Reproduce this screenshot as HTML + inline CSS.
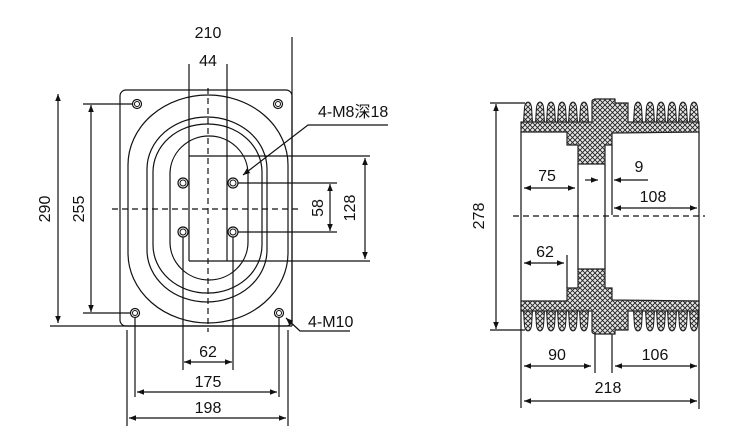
<!DOCTYPE html>
<html><head><meta charset="utf-8"><style>
html,body{margin:0;padding:0;background:#fff;}
svg{display:block;}
text{font-family:"Liberation Sans Narrow","Liberation Sans","Noto Sans CJK SC",sans-serif;font-size:16px;fill:#111;}
</style></head><body>
<svg width="752" height="438" viewBox="0 0 752 438" xmlns="http://www.w3.org/2000/svg">
<defs>
<pattern id="h" width="5" height="5" patternUnits="userSpaceOnUse">
<rect width="5" height="5" fill="#e8e8e8"/>
<path d="M0,0L5,5M5,0L0,5" stroke="#222" stroke-width="0.9"/>
</pattern>
<marker id="a" viewBox="0 0 10 10" refX="10" refY="5" markerWidth="9" markerHeight="7" orient="auto-start-reverse" markerUnits="userSpaceOnUse">
<path d="M0,1L10,5L0,9z" fill="#111"/>
</marker>
<g id="fin"><path d="M-4.5,0 L-3.5,-15 Q-2.5,-20 0,-20 Q2.5,-20 3.5,-15 L4.5,0z" fill="url(#h)" stroke="#222" stroke-width="1"/></g>
<g id="half">
<use href="#fin" x="528" y="122"/><use href="#fin" x="540" y="122"/><use href="#fin" x="551" y="122"/><use href="#fin" x="562" y="122"/><use href="#fin" x="573" y="122"/><use href="#fin" x="584" y="122"/>
<use href="#fin" x="638" y="122"/><use href="#fin" x="650" y="122"/><use href="#fin" x="661" y="122"/><use href="#fin" x="672" y="122"/><use href="#fin" x="683" y="122"/><use href="#fin" x="694" y="122"/>
<path d="M521,122 L592,122 L592,101 Q593,99 596,99 L615,99 L615,103 L628,103 L628,122 L699,122 L699,132 L612,133 L612,145 L605,145 L605,164 L578,164 L578,145 L567,145 L567,132 L521,132z" fill="url(#h)" stroke="#222" stroke-width="1.2"/>
</g>
</defs>
<g stroke="#111" stroke-width="1.2" fill="none">
<rect x="120" y="90" width="172" height="236" rx="6"/>
<rect x="128" y="95" width="160" height="228" rx="80" ry="70"/>
<rect x="147" y="117" width="120" height="185" rx="60" ry="52"/>
<rect x="153" y="124" width="109" height="169" rx="54" ry="48"/>
<rect x="170" y="136" width="78" height="144" rx="39" ry="38"/>
<path d="M208,88V332M112,209H298" stroke-dasharray="6,4"/>
<path d="M189,64V261M227,64V261M189,156H370M189,261H370"/>
<path d="M292,37V326"/>
<path d="M127,330V426M288,330V426M135,313V397M279,313V397M183,232V370M233,232V370"/>
<path d="M50,326H292M83,104H132M83,313H132M233,183H337M233,232H337"/>
<g fill="#fff">
<circle cx="137" cy="104" r="4.5"/><circle cx="278" cy="104" r="4.5"/><circle cx="135" cy="313" r="4.5"/><circle cx="279" cy="313" r="4.5"/>
<circle cx="183" cy="183" r="5"/><circle cx="233" cy="183" r="5"/><circle cx="183" cy="232" r="5"/><circle cx="233" cy="232" r="5"/>
</g>
<g stroke-width="1"><circle cx="137" cy="104" r="2.5"/><circle cx="278" cy="104" r="2.5"/><circle cx="135" cy="313" r="2.5"/><circle cx="279" cy="313" r="2.5"/>
<circle cx="183" cy="183" r="3"/><circle cx="233" cy="183" r="3"/><circle cx="183" cy="232" r="3"/><circle cx="233" cy="232" r="3"/></g>
<g marker-start="url(#a)" marker-end="url(#a)">
<path d="M58,94V323"/><path d="M91,105V312"/><path d="M330,184V231"/><path d="M365,158V259"/>
<path d="M184,362H232"/><path d="M137,392H277"/><path d="M129,418H286"/>
</g>
<path d="M388,125H308L243,175" marker-end="url(#a)"/>
<path d="M350,331H300L286,318" marker-end="url(#a)"/>
<path d="M490,103H525M490,330H525"/>
<path d="M496,104V329" marker-start="url(#a)" marker-end="url(#a)"/>
<path d="M521,132V408M699,132V409M578,164V270M605,164V269M612,145V215M567,255V288M595,333V373M612,333V373"/>
<path d="M513,216H705" stroke-dasharray="6,4"/>
<g marker-start="url(#a)" marker-end="url(#a)">
<path d="M524,188H575"/><path d="M614,208H697"/><path d="M524,263H564"/>
<path d="M524,366H591"/><path d="M615,366H697"/><path d="M524,401H697"/>
</g>
<path d="M585,180H598" marker-end="url(#a)"/>
<path d="M648,180H614" marker-end="url(#a)"/>
</g>
<use href="#half"/>
<use href="#half" transform="translate(0,433) scale(1,-1)"/>
<g>
<text x="208" y="38" text-anchor="middle">210</text>
<text x="208" y="66" text-anchor="middle">44</text>
<text x="318" y="117">4-M8深18</text>
<text x="308" y="327">4-M10</text>
<text x="208" y="357" text-anchor="middle">62</text>
<text x="208" y="387" text-anchor="middle">175</text>
<text x="208" y="413" text-anchor="middle">198</text>
<text transform="translate(50,209) rotate(-90)" text-anchor="middle">290</text>
<text transform="translate(84,209) rotate(-90)" text-anchor="middle">255</text>
<text transform="translate(323,208) rotate(-90)" text-anchor="middle">58</text>
<text transform="translate(355,208) rotate(-90)" text-anchor="middle">128</text>
<text transform="translate(484,216) rotate(-90)" text-anchor="middle">278</text>
<text x="547" y="181" text-anchor="middle">75</text>
<text x="639" y="172" text-anchor="middle">9</text>
<text x="653" y="202" text-anchor="middle">108</text>
<text x="545" y="257" text-anchor="middle">62</text>
<text x="557" y="360" text-anchor="middle">90</text>
<text x="655" y="360" text-anchor="middle">106</text>
<text x="608" y="393" text-anchor="middle">218</text>
</g>
</svg>
</body></html>
